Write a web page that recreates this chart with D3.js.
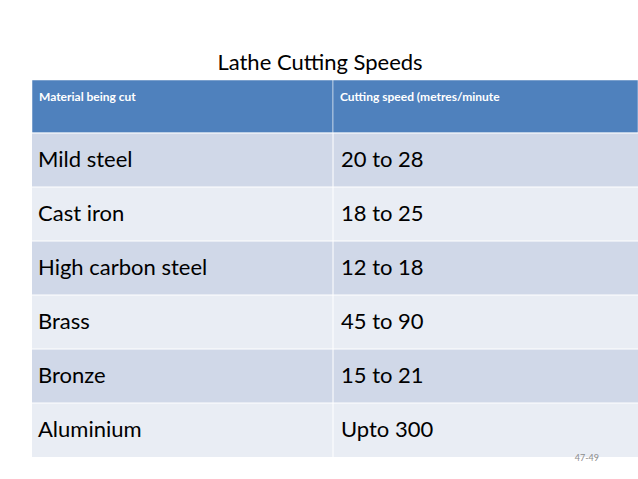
<!DOCTYPE html>
<html><head><meta charset="utf-8">
<script src="https://cdn.jsdelivr.net/npm/d3@7"></script>
<style>body{margin:0;background:#fff}</style>
</head><body><svg id="c" width="638" height="479"></svg>
<script>
var headers = ['Material being cut', 'Cutting speed (metres/minute'];
var materials = ['Mild steel', 'Cast iron', 'High carbon steel', 'Brass', 'Bronze', 'Aluminium'];
var speeds = ['20 to 28', '18 to 25', '12 to 18', '45 to 90', '15 to 21', 'Upto 300'];

var svg = d3.select('#c');
var font = 'Lato, "Open Sans", sans-serif';
var x = d3.scaleOrdinal().domain([0, 1]).range([32, 333]);
var colW = [301, 305];
var y = d3.scaleBand().domain(d3.range(materials.length)).range([133, 457]);

svg.append('text').attr('x', 320).attr('y', 70).attr('text-anchor', 'middle')
	.style('font-family', font).style('font-size', '22px').attr('fill', '#000')
	.text('Lathe Cutting Speeds');

svg.selectAll('rect.h').data(headers).enter().append('rect')
	.attr('x', function(d, i) { return x(i); }).attr('y', 80)
	.attr('width', function(d, i) { return colW[i]; }).attr('height', 53)
	.attr('fill', '#4F81BD').attr('stroke', '#fff').attr('stroke-width', 0.5);
svg.selectAll('text.h').data(headers).enter().append('text')
	.attr('x', function(d, i) { return x(i) + 7; }).attr('y', 101)
	.style('font-family', font).style('font-size', '12px').style('font-weight', 'bold')
	.attr('fill', '#fff').text(function(d) { return d; });

var rows = svg.selectAll('g.r').data(materials).enter().append('g')
	.attr('transform', function(d, i) { return 'translate(0,' + y(i) + ')'; });
rows.append('rect').attr('x', 32).attr('width', 606).attr('height', y.bandwidth())
	.attr('fill', function(d, i) { return i % 2 ? '#E9EDF4' : '#D0D8E8'; });
rows.append('line').attr('x1', 333).attr('x2', 333).attr('y2', y.bandwidth())
	.attr('stroke', '#fff').attr('stroke-width', 1);
rows.append('line').attr('x1', 32).attr('x2', 638)
	.attr('stroke', '#fff').attr('stroke-width', 1);
rows.append('text').attr('x', x(0) + 6).attr('y', 34)
	.style('font-family', font).style('font-size', '22px').attr('fill', '#000')
	.text(function(d) { return d; });
rows.append('text').attr('x', x(1) + 8).attr('y', 34)
	.style('font-family', font).style('font-size', '22px').attr('fill', '#000')
	.text(function(d, i) { return speeds[i]; });

svg.append('text').attr('x', 599).attr('y', 461).attr('text-anchor', 'end')
	.style('font-family', font).style('font-size', '9px').attr('fill', '#8c8c8c')
	.text('47-49');
</script></body></html>
